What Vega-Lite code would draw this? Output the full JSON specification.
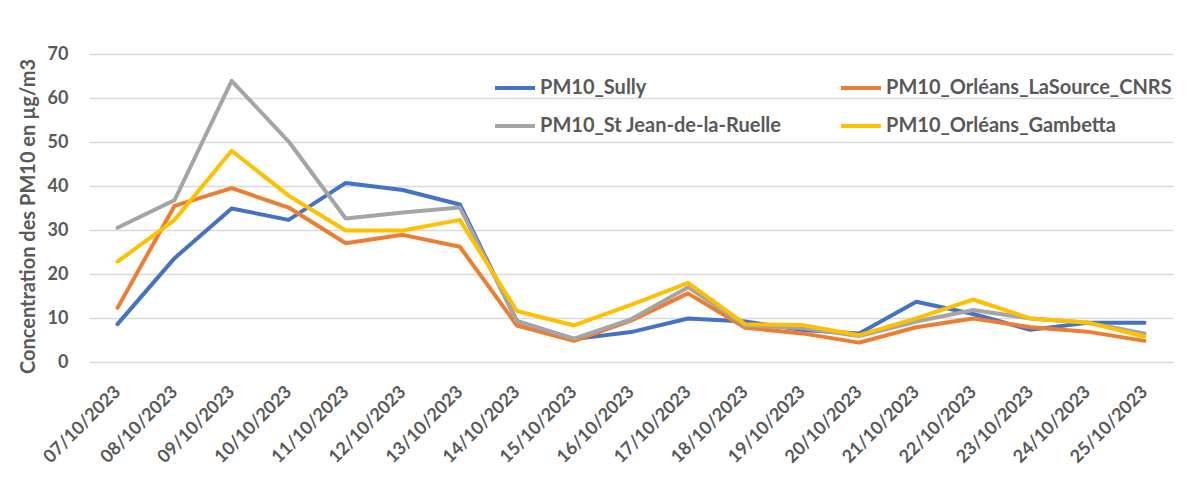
{
  "$schema": "https://vega.github.io/schema/vega-lite/v6.json",
  "width": 1084,
  "height": 308,
  "autosize": {"type": "none"},
  "padding": {"left": 89, "top": 54, "right": 19, "bottom": 133},
  "background": "white",
  "config": {
    "view": {"stroke": null},
    "font": "Lato",
    "axis": {"labelFont": "Lato", "titleFont": "Lato", "labelColor": "#595959", "titleColor": "#595959"}
  },
  "data": {
    "values": [
      {"date": "07/10/2023", "station": "PM10_Sully", "value": 8.6},
      {"date": "08/10/2023", "station": "PM10_Sully", "value": 23.6},
      {"date": "09/10/2023", "station": "PM10_Sully", "value": 34.9},
      {"date": "10/10/2023", "station": "PM10_Sully", "value": 32.3},
      {"date": "11/10/2023", "station": "PM10_Sully", "value": 40.7},
      {"date": "12/10/2023", "station": "PM10_Sully", "value": 39.1},
      {"date": "13/10/2023", "station": "PM10_Sully", "value": 35.8},
      {"date": "14/10/2023", "station": "PM10_Sully", "value": 9.3},
      {"date": "15/10/2023", "station": "PM10_Sully", "value": 5.2},
      {"date": "16/10/2023", "station": "PM10_Sully", "value": 6.8},
      {"date": "17/10/2023", "station": "PM10_Sully", "value": 9.9},
      {"date": "18/10/2023", "station": "PM10_Sully", "value": 9.2},
      {"date": "19/10/2023", "station": "PM10_Sully", "value": 7.3},
      {"date": "20/10/2023", "station": "PM10_Sully", "value": 6.5},
      {"date": "21/10/2023", "station": "PM10_Sully", "value": 13.7},
      {"date": "22/10/2023", "station": "PM10_Sully", "value": 10.9},
      {"date": "23/10/2023", "station": "PM10_Sully", "value": 7.3},
      {"date": "24/10/2023", "station": "PM10_Sully", "value": 8.9},
      {"date": "25/10/2023", "station": "PM10_Sully", "value": 8.9},
      {"date": "07/10/2023", "station": "PM10_Orléans_LaSource_CNRS", "value": 12.3},
      {"date": "08/10/2023", "station": "PM10_Orléans_LaSource_CNRS", "value": 35.5},
      {"date": "09/10/2023", "station": "PM10_Orléans_LaSource_CNRS", "value": 39.5},
      {"date": "10/10/2023", "station": "PM10_Orléans_LaSource_CNRS", "value": 35.1},
      {"date": "11/10/2023", "station": "PM10_Orléans_LaSource_CNRS", "value": 27.0},
      {"date": "12/10/2023", "station": "PM10_Orléans_LaSource_CNRS", "value": 28.9},
      {"date": "13/10/2023", "station": "PM10_Orléans_LaSource_CNRS", "value": 26.2},
      {"date": "14/10/2023", "station": "PM10_Orléans_LaSource_CNRS", "value": 8.3},
      {"date": "15/10/2023", "station": "PM10_Orléans_LaSource_CNRS", "value": 4.8},
      {"date": "16/10/2023", "station": "PM10_Orléans_LaSource_CNRS", "value": 9.4},
      {"date": "17/10/2023", "station": "PM10_Orléans_LaSource_CNRS", "value": 15.6},
      {"date": "18/10/2023", "station": "PM10_Orléans_LaSource_CNRS", "value": 7.8},
      {"date": "19/10/2023", "station": "PM10_Orléans_LaSource_CNRS", "value": 6.5},
      {"date": "20/10/2023", "station": "PM10_Orléans_LaSource_CNRS", "value": 4.4},
      {"date": "21/10/2023", "station": "PM10_Orléans_LaSource_CNRS", "value": 7.9},
      {"date": "22/10/2023", "station": "PM10_Orléans_LaSource_CNRS", "value": 9.9},
      {"date": "23/10/2023", "station": "PM10_Orléans_LaSource_CNRS", "value": 7.9},
      {"date": "24/10/2023", "station": "PM10_Orléans_LaSource_CNRS", "value": 6.9},
      {"date": "25/10/2023", "station": "PM10_Orléans_LaSource_CNRS", "value": 4.8},
      {"date": "07/10/2023", "station": "PM10_St Jean-de-la-Ruelle", "value": 30.5},
      {"date": "08/10/2023", "station": "PM10_St Jean-de-la-Ruelle", "value": 36.8},
      {"date": "09/10/2023", "station": "PM10_St Jean-de-la-Ruelle", "value": 63.9},
      {"date": "10/10/2023", "station": "PM10_St Jean-de-la-Ruelle", "value": 50.1},
      {"date": "11/10/2023", "station": "PM10_St Jean-de-la-Ruelle", "value": 32.6},
      {"date": "12/10/2023", "station": "PM10_St Jean-de-la-Ruelle", "value": 34.0},
      {"date": "13/10/2023", "station": "PM10_St Jean-de-la-Ruelle", "value": 35.1},
      {"date": "14/10/2023", "station": "PM10_St Jean-de-la-Ruelle", "value": 9.3},
      {"date": "15/10/2023", "station": "PM10_St Jean-de-la-Ruelle", "value": 5.3},
      {"date": "16/10/2023", "station": "PM10_St Jean-de-la-Ruelle", "value": 9.7},
      {"date": "17/10/2023", "station": "PM10_St Jean-de-la-Ruelle", "value": 17.0},
      {"date": "18/10/2023", "station": "PM10_St Jean-de-la-Ruelle", "value": 8.3},
      {"date": "19/10/2023", "station": "PM10_St Jean-de-la-Ruelle", "value": 7.7},
      {"date": "20/10/2023", "station": "PM10_St Jean-de-la-Ruelle", "value": 5.9},
      {"date": "21/10/2023", "station": "PM10_St Jean-de-la-Ruelle", "value": 9.2},
      {"date": "22/10/2023", "station": "PM10_St Jean-de-la-Ruelle", "value": 11.8},
      {"date": "23/10/2023", "station": "PM10_St Jean-de-la-Ruelle", "value": 9.9},
      {"date": "24/10/2023", "station": "PM10_St Jean-de-la-Ruelle", "value": 8.9},
      {"date": "25/10/2023", "station": "PM10_St Jean-de-la-Ruelle", "value": 6.5},
      {"date": "07/10/2023", "station": "PM10_Orléans_Gambetta", "value": 22.8},
      {"date": "08/10/2023", "station": "PM10_Orléans_Gambetta", "value": 32.3},
      {"date": "09/10/2023", "station": "PM10_Orléans_Gambetta", "value": 48.0},
      {"date": "10/10/2023", "station": "PM10_Orléans_Gambetta", "value": 37.8},
      {"date": "11/10/2023", "station": "PM10_Orléans_Gambetta", "value": 29.9},
      {"date": "12/10/2023", "station": "PM10_Orléans_Gambetta", "value": 29.9},
      {"date": "13/10/2023", "station": "PM10_Orléans_Gambetta", "value": 32.3},
      {"date": "14/10/2023", "station": "PM10_Orléans_Gambetta", "value": 11.6},
      {"date": "15/10/2023", "station": "PM10_Orléans_Gambetta", "value": 8.3},
      {"date": "16/10/2023", "station": "PM10_Orléans_Gambetta", "value": 13.0},
      {"date": "17/10/2023", "station": "PM10_Orléans_Gambetta", "value": 18.0},
      {"date": "18/10/2023", "station": "PM10_Orléans_Gambetta", "value": 8.6},
      {"date": "19/10/2023", "station": "PM10_Orléans_Gambetta", "value": 8.4},
      {"date": "20/10/2023", "station": "PM10_Orléans_Gambetta", "value": 6.1},
      {"date": "21/10/2023", "station": "PM10_Orléans_Gambetta", "value": 9.9},
      {"date": "22/10/2023", "station": "PM10_Orléans_Gambetta", "value": 14.2},
      {"date": "23/10/2023", "station": "PM10_Orléans_Gambetta", "value": 9.9},
      {"date": "24/10/2023", "station": "PM10_Orléans_Gambetta", "value": 9.0},
      {"date": "25/10/2023", "station": "PM10_Orléans_Gambetta", "value": 5.8}
    ]
  },
  "mark": {"type": "line", "strokeWidth": 4, "strokeJoin": "round", "strokeCap": "round"},
  "encoding": {
    "x": {
      "field": "date", "type": "ordinal", "sort": null,
      "scale": {"type": "point", "padding": 0.5},
      "axis": {
        "title": null, "domain": false, "ticks": false, "grid": false,
        "labelAngle": -45, "labelAlign": "right", "labelBaseline": "middle",
        "labelFontSize": 18, "labelFontWeight": "bold", "labelPadding": 27
      }
    },
    "y": {
      "field": "value", "type": "quantitative",
      "scale": {"domain": [0, 70], "nice": false},
      "axis": {
        "values": [0, 10, 20, 30, 40, 50, 60, 70],
        "title": "Concentration des PM10 en µg/m3",
        "titleFontSize": 20, "titleFontWeight": "bold",
        "titleX": -61, "titleY": 162, "titleAngle": -90, "titleAlign": "center", "titleBaseline": "middle",
        "domain": false, "ticks": false,
        "gridColor": "#D9D9D9", "gridWidth": 1.5,
        "labelFontSize": 18, "labelFontWeight": "bold", "labelPadding": 21
      }
    },
    "color": {
      "field": "station", "type": "nominal",
      "scale": {
        "domain": ["PM10_Sully", "PM10_St Jean-de-la-Ruelle", "PM10_Orléans_LaSource_CNRS", "PM10_Orléans_Gambetta"],
        "range": ["#4472C4", "#A5A5A5", "#ED7D31", "#FFC000"]
      },
      "legend": {
        "title": null, "orient": "none", "legendX": 404, "legendY": 12,
        "columns": 2, "columnPadding": 51, "rowPadding": 6, "padding": 0,
        "symbolType": "stroke", "symbolSize": 1600, "symbolStrokeWidth": 4,
        "labelFont": "Lato", "labelFontSize": 20, "labelFontWeight": "bold", "labelColor": "#595959",
        "labelOffset": 3, "labelLimit": 500
      }
    }
  }
}
